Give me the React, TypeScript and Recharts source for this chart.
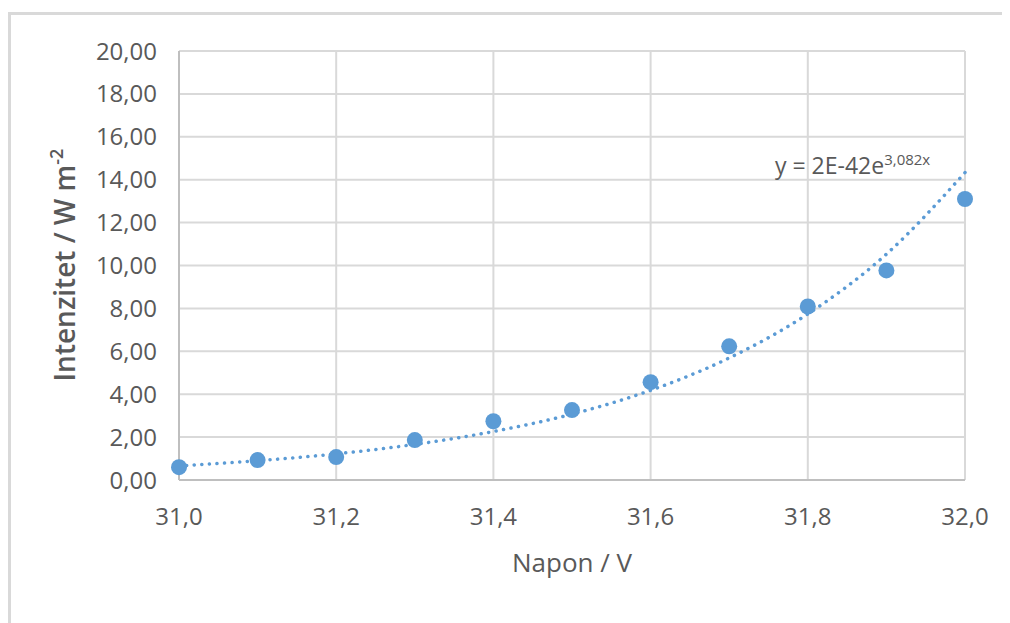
import React from 'react';
import {
  ComposedChart,
  Line,
  Scatter,
  XAxis,
  YAxis,
  CartesianGrid,
} from 'recharts';

// measured voltage (V) and intensity (W m-2)
const napon = [31.0, 31.1, 31.2, 31.3, 31.4, 31.5, 31.6, 31.7, 31.8, 31.9, 32.0];
const intenzitet = [0.6, 0.93, 1.07, 1.86, 2.74, 3.26, 4.56, 6.23, 8.09, 9.77, 13.1];
// exponential trend line
const trend = [0.66, 0.9, 1.22, 1.66, 2.26, 3.07, 4.18, 5.69, 7.74, 10.53, 14.33];

const xTicks = [31.0, 31.2, 31.4, 31.6, 31.8, 32.0];
const yTicks = [0, 2, 4, 6, 8, 10, 12, 14, 16, 18, 20];

const points = napon.map((x, i) => ({ x, y: intenzitet[i] }));
const trendData = napon.map((x, i) => ({ x, t: trend[i] }));

const FONT = "'Open Sans', 'Noto Sans', sans-serif";
const TEXT = '#595959';
const BLUE = '#5B9BD5';

const fmt = (v: number, d: number) => v.toFixed(d).replace('.', ',');

const YLabel = () => (
  <text
    x={0}
    y={0}
    transform="translate(67, 257) rotate(-90)"
    textAnchor="middle"
    fill={TEXT}
    fontSize={28}
    fontWeight={600}
    fontFamily={FONT}
  >
    <tspan>Intenzitet / W m</tspan>
    <tspan dy={-12} fontSize={18}>-2</tspan>
  </text>
);

export default function App() {
  return (
    <div
      style={{
        position: 'relative',
        width: 1002,
        height: 615,
        overflow: 'hidden',
        fontFamily: FONT,
      }}
    >
      <div
        style={{
          position: 'absolute',
          left: 0,
          top: 4,
          width: 1010,
          height: 640,
          border: '3px solid #d9d9d9',
          boxSizing: 'border-box',
        }}
      />
      <ComposedChart
        width={1000}
        height={610}
        data={trendData}
        margin={{ top: 43, right: 43, bottom: 0, left: 0 }}
        style={{ position: 'absolute', left: 0, top: 0 }}
      >
        <CartesianGrid stroke="#d9d9d9" strokeWidth={2} horizontalValues={yTicks} verticalValues={xTicks} />
        <XAxis
          type="number"
          dataKey="x"
          domain={[31, 32]}
          ticks={xTicks}
          tickFormatter={(v) => fmt(v, 1)}
          tick={{ fill: TEXT, fontSize: 24, fontFamily: FONT }}
          tickLine={false}
          axisLine={{ stroke: '#bfbfbf', strokeWidth: 2 }}
          tickMargin={22}
          height={138}
          label={{
            value: 'Napon / V',
            position: 'insideTop',
            offset: 74,
            fill: TEXT,
            fontSize: 26,
            fontFamily: FONT,
          }}
        />
        <YAxis
          type="number"
          domain={[0, 20]}
          ticks={yTicks}
          tickFormatter={(v) => fmt(v, 2)}
          tick={{ fill: TEXT, fontSize: 24, fontFamily: FONT }}
          tickLine={false}
          axisLine={{ stroke: '#bfbfbf', strokeWidth: 2 }}
          tickMargin={16}
          width={171}
          label={<YLabel />}
        />
        <Line
          type="monotone"
          dataKey="t"
          stroke={BLUE}
          strokeWidth={3.5}
          strokeDasharray="0.1 7.5"
          strokeLinecap="round"
          dot={false}
          activeDot={false}
          isAnimationActive={false}
        />
        <Scatter
          data={points}
          dataKey="y"
          fill={BLUE}
          shape={(p: any) => <circle cx={p.cx} cy={p.cy} r={8} fill={BLUE} />}
          isAnimationActive={false}
        />
      </ComposedChart>
      <div
        style={{
          position: 'absolute',
          left: 767,
          top: 141,
          color: TEXT,
          fontSize: 23,
          whiteSpace: 'nowrap',
        }}
      >
        y = 2E-42e<sup style={{ fontSize: 15 }}>3,082x</sup>
      </div>
    </div>
  );
}
